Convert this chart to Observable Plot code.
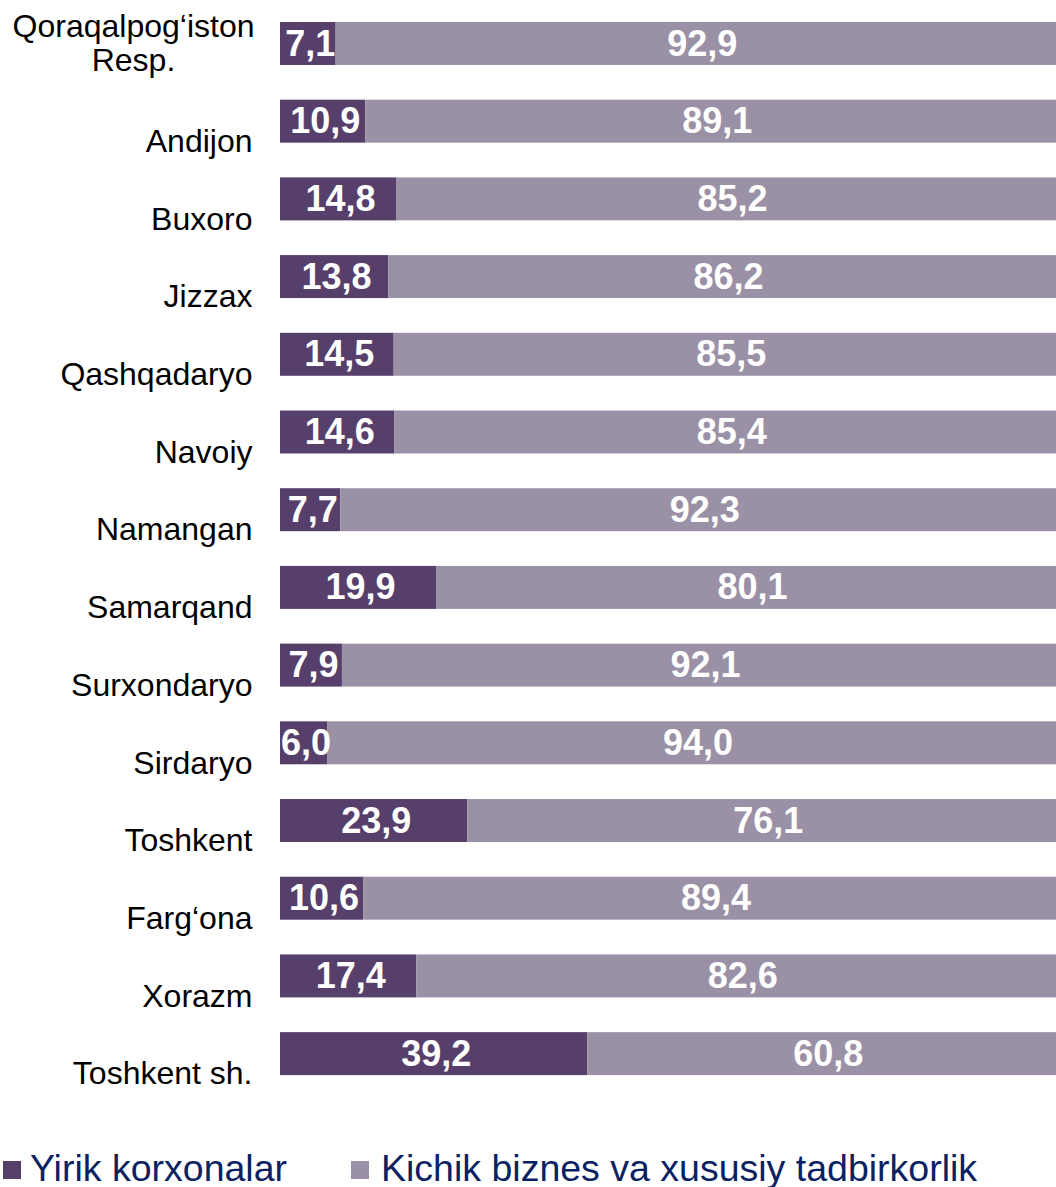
<!DOCTYPE html>
<html>
<head>
<meta charset="utf-8">
<script src="https://cdn.jsdelivr.net/npm/d3@7"></script>
<script src="https://cdn.jsdelivr.net/npm/@observablehq/plot@0.6"></script>
<style>
  html, body { margin: 0; padding: 0; background: #fff; overflow: hidden; }
  body { width: 1056px; height: 1187px; position: relative; font-family: "Liberation Sans", Arial, sans-serif; }
  #legend { position: absolute; left: 0; top: 1147px; width: 1056px; height: 42px; }
  .item { position: absolute; top: 0; font-size: 37.5px; color: #0b2262; line-height: 42px; white-space: nowrap; }
  .sw { position: absolute; width: 18px; height: 18px; top: 14px; }
</style>
</head>
<body>
<div id="chart"></div>
<div id="legend"></div>
<script>
const regions = ["Qoraqalpog‘iston Resp.", "Andijon", "Buxoro", "Jizzax", "Qashqadaryo", "Navoiy", "Namangan", "Samarqand", "Surxondaryo", "Sirdaryo", "Toshkent", "Farg‘ona", "Xorazm", "Toshkent sh."];
const large = [7.1, 10.9, 14.8, 13.8, 14.5, 14.6, 7.7, 19.9, 7.9, 6.0, 23.9, 10.6, 17.4, 39.2];
const small = [92.9, 89.1, 85.2, 86.2, 85.5, 85.4, 92.3, 80.1, 92.1, 94.0, 76.1, 89.4, 82.6, 60.8];
const seriesNames = ["Yirik korxonalar", "Kichik biznes va xususiy tadbirkorlik"];
const colors = ["#563f6b", "#9b91a6"];

const data = [];
regions.forEach((r, i) => {
  data.push({region: r, series: seriesNames[0], value: large[i]});
  data.push({region: r, series: seriesNames[1], value: small[i]});
});
const fmt = v => v.toFixed(1).replace(".", ",");

const firstLabel = ["Qoraqalpog‘iston\nResp."];
const otherLabels = regions.slice(1);

const chart = Plot.plot({
  width: 1056,
  height: 1100,
  margin: 0,
  x: {domain: [0, 100], range: [280, 1064], axis: null},
  y: {domain: regions, range: [22, 1075.1], paddingInner: 0.447, paddingOuter: 0, round: false, axis: null},
  color: {domain: seriesNames, range: colors},
  style: {fontFamily: "'Liberation Sans', Arial, sans-serif"},
  marks: [
    Plot.barX(data, Plot.stackX({x: "value", y: "region", z: "series", fill: "series", order: null})),
    Plot.text(data, Plot.stackX({x: "value", y: "region", z: "series", order: null,
      text: d => fmt(d.value), fill: "white", fontSize: 36, fontWeight: "bold", dx: 2})),
    Plot.text(otherLabels, {x: () => 0, y: d => d, text: d => d, textAnchor: "end", dx: -28, dy: 20,
      fontSize: 32, fill: "#000"}),
    Plot.text(firstLabel, {x: () => 0, y: () => regions[0], text: d => d, textAnchor: "middle", dx: -147, dy: -1,
      lineHeight: 1.06, fontSize: 32, fill: "#000"})
  ]
});
document.getElementById("chart").appendChild(chart);

const legend = document.getElementById("legend");
const lx = [3, 351];
seriesNames.forEach((s, i) => {
  const sw = document.createElement("div");
  sw.className = "sw";
  sw.style.left = lx[i] + "px";
  sw.style.background = colors[i];
  legend.appendChild(sw);
  const t = document.createElement("div");
  t.className = "item";
  t.style.left = (lx[i] + (i === 0 ? 27 : 30)) + "px";
  t.textContent = s;
  legend.appendChild(t);
});
</script>
</body>
</html>
